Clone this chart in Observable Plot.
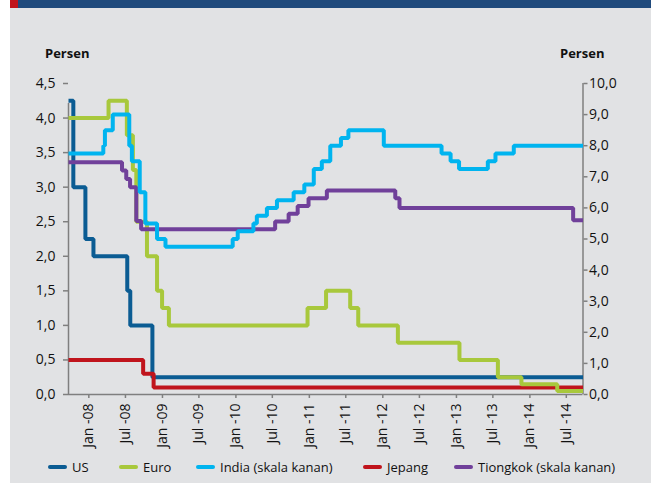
<!DOCTYPE html>
<html><head><meta charset="utf-8">
<script src="https://cdn.jsdelivr.net/npm/d3@7"></script>
<script src="https://cdn.jsdelivr.net/npm/@observablehq/plot@0.6"></script>
<style>
html,body{margin:0;padding:0;background:#fff;}
#wrap{position:relative;width:651px;height:489px;overflow:hidden;font-family:"Open Sans",sans-serif;}
#panel{position:absolute;left:10px;top:8px;width:641px;height:475px;background:#e1e2e4;}
#red{position:absolute;left:10px;top:0;width:8px;height:8px;background:#c0141c;}
#blue{position:absolute;left:18px;top:0;width:633px;height:8px;background:#1f4a7c;}
#chart{position:absolute;left:0;top:0;}
.unit{position:absolute;top:44px;line-height:18px;font-weight:700;font-size:13px;color:#111;}
.leg{position:absolute;top:458px;line-height:18px;font-size:13px;color:#111;white-space:nowrap;}
.sw{position:absolute;top:465px;width:19px;height:4px;border-radius:2px;}
</style></head><body>
<div id="wrap">
  <div id="panel"></div><div id="red"></div><div id="blue"></div>
  <div id="chart"></div>
  <div class="unit" style="left:45px">Persen</div>
  <div class="unit" style="left:560px">Persen</div>
  <div id="legend"></div>
</div>
<script>
// ---- data (step-change dates and policy rates) ----
const usDates = ["2007-09-22","2007-10-16","2007-12-15","2008-01-24","2008-07-10","2008-07-25","2008-11-12"];
const usRates = [4.25,3.0,2.25,2.0,1.5,1.0,0.25];

const euroDates = ["2007-09-22","2008-04-08","2008-07-08","2008-08-07","2008-08-24","2008-10-16","2008-12-05","2008-12-30","2009-02-02","2010-12-23","2011-03-25","2011-07-23","2011-09-01","2012-03-16","2013-01-16","2013-07-26","2013-11-20","2014-05-17"];
const euroRates = [4.0,4.25,3.75,3.25,2.5,2.0,1.5,1.25,1.0,1.25,1.5,1.25,1.0,0.75,0.5,0.25,0.15,0.05];

const indiaDates = ["2007-09-22","2008-03-13","2008-03-21","2008-04-29","2008-07-20","2008-08-02","2008-09-10","2008-10-08","2008-12-05","2009-01-16","2009-12-16","2010-01-10","2010-03-29","2010-04-15","2010-06-04","2010-07-24","2010-10-15","2010-12-07","2011-01-23","2011-03-04","2011-04-15","2011-06-07","2011-07-14","2012-01-06","2012-10-19","2012-12-03","2013-01-14","2013-06-06","2013-07-14","2013-10-13"];
const indiaRates = [7.75,8.0,8.5,9.0,8.0,7.5,6.5,5.5,5.0,4.75,5.0,5.25,5.5,5.75,6.0,6.25,6.5,6.75,7.25,7.5,8.0,8.25,8.5,8.0,7.75,7.5,7.25,7.5,7.75,8.0];

const japanDates = ["2007-09-22","2008-09-27","2008-11-18"];
const japanRates = [0.5,0.3,0.1];

const chinaDates = ["2007-09-22","2008-06-14","2008-07-05","2008-07-24","2008-08-24","2008-09-17","2010-07-15","2010-09-20","2010-11-04","2010-12-28","2011-03-29","2012-03-03","2012-03-24","2014-08-04"];
const chinaRates = [7.47,7.2,6.93,6.66,5.58,5.31,5.56,5.81,6.06,6.31,6.56,6.31,6.0,5.6];

const seriesNames = ["US","Euro","India (skala kanan)","Jepang","Tiongkok (skala kanan)"];
const seriesColors = ["#0b5c93","#a8c83c","#00b4ef","#c0141c","#70409a"];

const leftTicks = [0,0.5,1,1.5,2,2.5,3,3.5,4,4.5];
const rightTicks = [0,1,2,3,4,5,6,7,8,9,10];
const xTickDates = ["2008-01-01","2008-07-01","2009-01-01","2009-07-01","2010-01-01","2010-07-01","2011-01-01","2011-07-01","2012-01-01","2012-07-01","2013-01-01","2013-07-01","2014-01-01","2014-07-01"];
const monthLabels = {0:"Jan", 6:"Jul"};
const domainStart = "2007-09-22", domainEnd = "2014-09-22";

// ---- build ----
const start = new Date(domainStart), end = new Date(domainEnd);
const K = 4.5 / 10; // right axis (0–10) mapped onto left axis (0–4.5)
function rows(dates, vals, k) {
  const r = dates.map((d, i) => ({date: new Date(d), y: vals[i] * k}));
  r.push({date: end, y: vals[vals.length - 1] * k});
  return r;
}
const fmt = v => (Math.round(v * 10) / 10).toFixed(1).replace(".", ",");
const axisGray = "#7f7f7f", txt = "#111";
const lineOpts = (c) => ({x: "date", y: "y", curve: "step-after", stroke: c, strokeWidth: 4, strokeLinejoin: "miter", strokeLinecap: "butt"});

const chart = Plot.plot({
  width: 651, height: 489,
  marginLeft: 68, marginRight: 68.5, marginTop: 83, marginBottom: 95,
  style: {background: "transparent", fontFamily: "'Open Sans', sans-serif", fontSize: "14px", color: txt},
  x: {type: "utc", domain: [start, end]},
  y: {domain: [0, 4.5]},
  marks: [
    Plot.axisY({anchor: "left", ticks: leftTicks, tickSize: 5, tickPadding: 8, tickFormat: fmt, stroke: axisGray, strokeWidth: 1.5, fill: txt, label: null, fontSize: 14}),
    Plot.axisY({anchor: "right", ticks: rightTicks.map(v => v * K), tickSize: 4, tickPadding: 2, tickFormat: d => fmt(d / K), stroke: axisGray, strokeWidth: 1.5, fill: txt, label: null, fontSize: 14}),
    Plot.axisX({ticks: xTickDates.map(d => new Date(d)), tickSize: 4, tickPadding: 5, tickRotate: -90,
      tickFormat: d => monthLabels[d.getUTCMonth()] + " -" + String(d.getUTCFullYear()).slice(2),
      stroke: axisGray, strokeWidth: 1.5, fill: txt, label: null, fontSize: 14}),
    Plot.ruleX([start], {y1: 0, y2: 4.5, insetBottom: -20, stroke: axisGray, strokeWidth: 1.5}),
    Plot.ruleX([end], {y1: 0, y2: 4.5, stroke: axisGray, strokeWidth: 1.5}),
    Plot.ruleY([0], {x1: start, x2: end, stroke: axisGray, strokeWidth: 1.5}),
    Plot.line(rows(usDates, usRates, 1), lineOpts(seriesColors[0])),
    Plot.line(rows(japanDates, japanRates, 1), lineOpts(seriesColors[3])),
    Plot.line(rows(euroDates, euroRates, 1), lineOpts(seriesColors[1])),
    Plot.line(rows(chinaDates, chinaRates, K), lineOpts(seriesColors[4])),
    Plot.line(rows(indiaDates, indiaRates, K), lineOpts(seriesColors[2]))
  ]
});
document.getElementById("chart").appendChild(chart);

// legend
const legSwatchX = [48, 119, 196, 363, 454];
const legend = document.getElementById("legend");
seriesNames.forEach((name, i) => {
  const sw = document.createElement("div");
  sw.className = "sw"; sw.style.left = legSwatchX[i] + "px"; sw.style.background = seriesColors[i];
  const t = document.createElement("div");
  t.className = "leg"; t.style.left = (legSwatchX[i] + 24) + "px"; t.textContent = name;
  legend.appendChild(sw); legend.appendChild(t);
});
</script>
</body></html>
